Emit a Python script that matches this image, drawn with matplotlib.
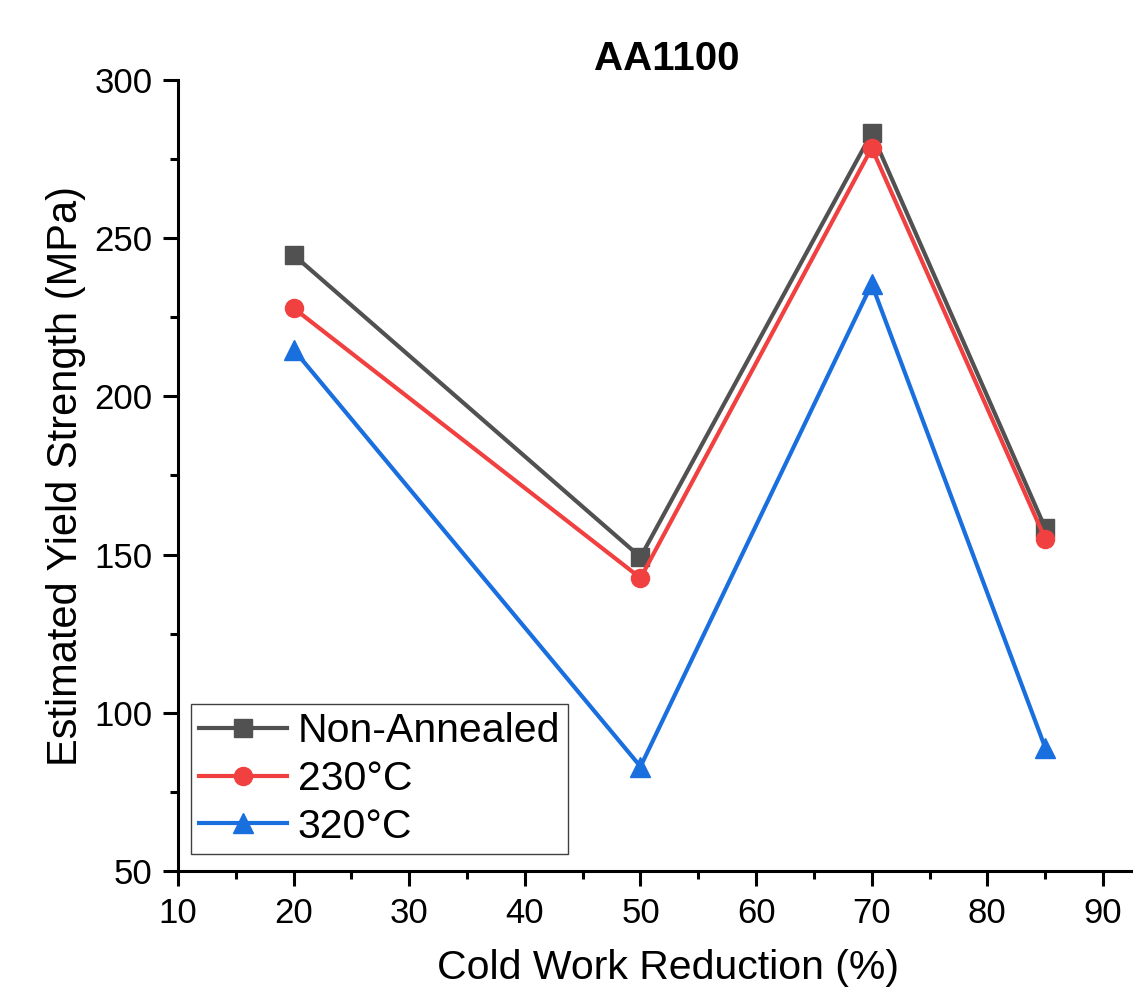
import matplotlib
matplotlib.use("Agg")
import matplotlib.pyplot as plt
from matplotlib.ticker import MultipleLocator

plt.rcParams['font.family'] = ['Liberation Sans', 'DejaVu Sans']

reduction = [20, 50, 70, 85]
non_annealed = [244.7, 149.2, 283.2, 158.4]
t230 = [227.9, 142.6, 278.5, 155.0]
t320 = [214.8, 83.0, 235.5, 89.0]

series = [
    ("Non-Annealed", non_annealed, "#515151", "s"),
    ("230°C", t230, "#F14040", "o"),
    ("320°C", t320, "#1A6FDF", "^"),
]


def main():
    fig = plt.figure(figsize=(11.33, 9.91), dpi=100)
    ax = fig.add_axes([178 / 1133, 120 / 991, 955 / 1133, 791 / 991])

    for label, values, color, marker in series:
        ms = 15 if marker == "^" else 13
        ax.plot(reduction, values, color=color, marker=marker, markersize=ms,
                linewidth=3, label=label)

    ax.set_xlim(10, 10 + 955 / 11.5625)
    ax.set_ylim(50, 300)
    ax.xaxis.set_major_locator(MultipleLocator(10))
    ax.xaxis.set_minor_locator(MultipleLocator(5))
    ax.yaxis.set_major_locator(MultipleLocator(50))
    ax.yaxis.set_minor_locator(MultipleLocator(25))
    ax.set_xticks(range(10, 100, 10))

    for side in ("top", "right"):
        ax.spines[side].set_visible(False)
    for side in ("left", "bottom"):
        ax.spines[side].set_linewidth(2.2)

    ax.tick_params(which="major", direction="out", length=10.5, width=2.2,
                   labelsize=25)
    ax.tick_params(which="minor", direction="out", length=5.5, width=2.2)
    ax.tick_params(axis="x", which="major", pad=8)
    ax.tick_params(axis="y", which="major", pad=8)

    ax.set_xlabel("Cold Work Reduction (%)", fontsize=29.5, labelpad=14)
    ax.xaxis.label.set_x((668 - 178) / 955)
    ax.set_ylabel("Estimated Yield Strength (MPa)", fontsize=30, labelpad=6)
    fig.text(667 / 1133, 1 - 70 / 991, "AA1100", fontsize=29,
             fontweight="bold", ha="center", va="baseline")

    leg = ax.legend(loc="lower left", bbox_to_anchor=(13 / 955, 17 / 791),
                    borderaxespad=0, fontsize=29.5, handlelength=2.15,
                    handletextpad=0.25, labelspacing=0.24, borderpad=0.2,
                    fancybox=False, framealpha=1)
    leg.get_frame().set_edgecolor("#404040")
    leg.get_frame().set_linewidth(1.0)

    fig.savefig("out.png", dpi=100)


if __name__ == "__main__":
    main()
